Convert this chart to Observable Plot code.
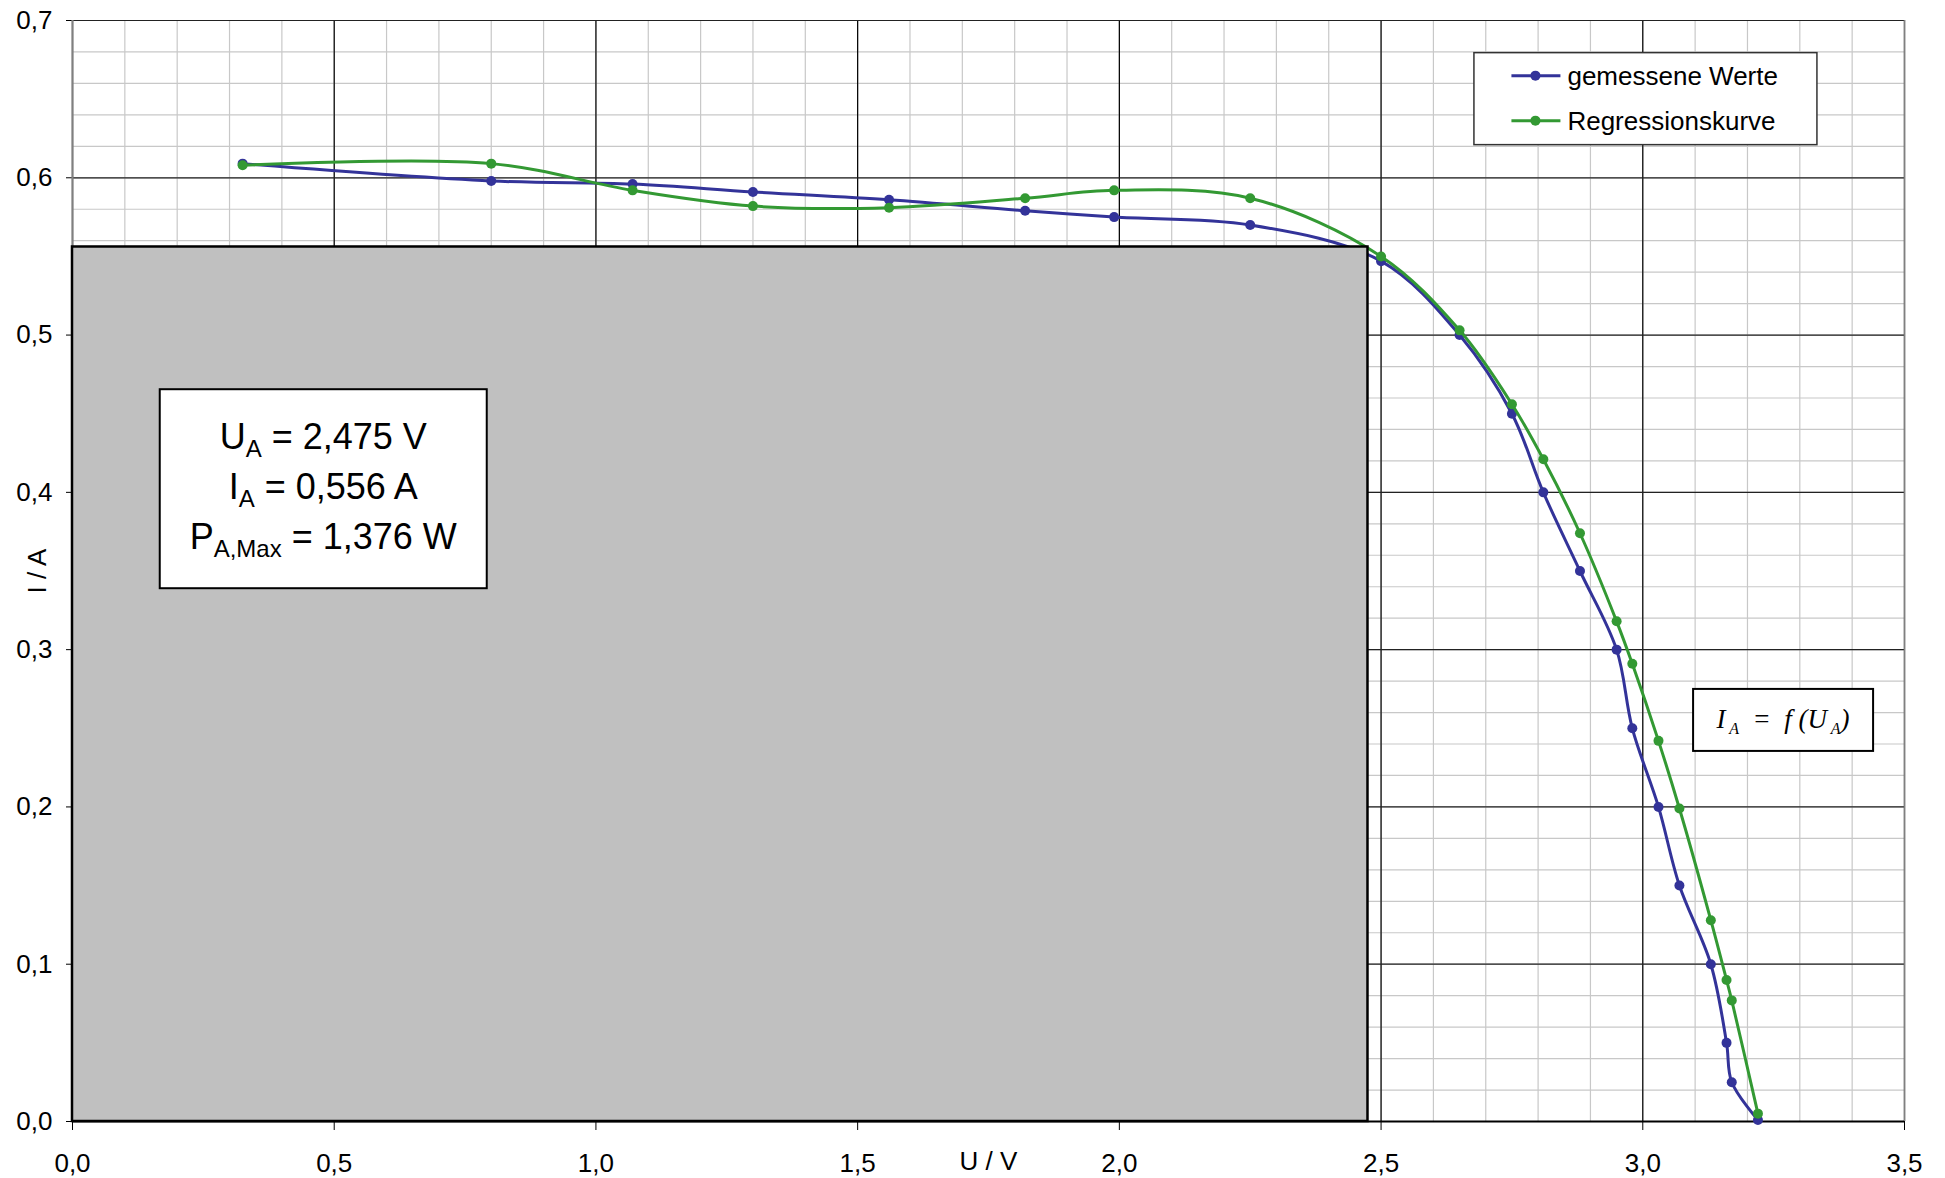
<!DOCTYPE html>
<html>
<head>
<meta charset="utf-8">
<script src="https://cdn.jsdelivr.net/npm/d3@7"></script>
<script src="https://cdn.jsdelivr.net/npm/@observablehq/plot@0.6"></script>
<style>
  body { margin: 0; background: #fff; }
  svg { display: block; }
</style>
</head>
<body>
<div id="chart"></div>
<script>
// Solar cell I–U characteristic: measured points and regression curve
const voltage = [0.325, 0.80, 1.07, 1.30, 1.56, 1.82, 1.99, 2.25, 2.50, 2.65, 2.75, 2.81, 2.88, 2.95, 2.98, 3.03, 3.07, 3.13, 3.16, 3.17, 3.22];
const currentMeasured = [0.609, 0.598, 0.596, 0.591, 0.586, 0.579, 0.575, 0.570, 0.547, 0.500, 0.450, 0.400, 0.350, 0.300, 0.250, 0.200, 0.150, 0.100, 0.050, 0.025, 0.001];
const currentRegression = [0.608, 0.609, 0.592, 0.582, 0.581, 0.587, 0.592, 0.587, 0.550, 0.503, 0.456, 0.421, 0.374, 0.318, 0.291, 0.242, 0.199, 0.128, 0.090, 0.077, 0.005];

const seriesNames = ["gemessene Werte", "Regressionskurve"];
const seriesColors = ["#333399", "#339933"];

const xTicks = [0, 0.5, 1.0, 1.5, 2.0, 2.5, 3.0, 3.5];
const yTicks = [0, 0.1, 0.2, 0.3, 0.4, 0.5, 0.6, 0.7];

// Maximum power point
const UA = 2.475;
const IA = 0.556;
const PMax = 1.376;

const xLabel = "U / V";
const yLabel = "I / A";

const fmt = (v, d) => v.toFixed(d).replace(".", ",");

const measured = voltage.map((u, i) => ({U: u, I: currentMeasured[i]}));
const regression = voltage.map((u, i) => ({U: u, I: currentRegression[i]}));

// fine grid: 0,1 V and 0,02 A steps
const minorX = d3.range(0, 36).map(i => i / 10);
const minorY = d3.range(0, 36).map(i => i / 50);

const sans = "'Liberation Sans', Arial, Helvetica, sans-serif";
const serif = "'Liberation Serif', 'Times New Roman', Times, serif";

const chart = Plot.plot({
  width: 1945,
  height: 1178,
  marginLeft: 72,
  marginRight: 41,
  marginTop: 20,
  marginBottom: 57,
  style: {fontFamily: sans, fontSize: "26px", background: "#fff", color: "#000"},
  x: {domain: [0, 3.5], ticks: xTicks, tickFormat: d => fmt(d, 1), tickSize: 9, tickPadding: 23, label: null},
  y: {domain: [0, 0.7], ticks: yTicks, tickFormat: d => fmt(d, 1), tickSize: 6, tickPadding: 14, label: null},
  marks: [
    Plot.ruleX(minorX, {stroke: "#c8c8c8", strokeWidth: 1.2}),
    Plot.ruleY(minorY, {stroke: "#c8c8c8", strokeWidth: 1.2}),
    Plot.ruleX(xTicks, {stroke: "#000", strokeWidth: 1.2}),
    Plot.ruleY(yTicks, {stroke: "#222", strokeWidth: 1.2}),
    Plot.ruleX([0], {stroke: "#808080", strokeWidth: 2}),
    Plot.ruleX([3.5], {stroke: "#808080", strokeWidth: 1.5}),
    Plot.ruleY([0], {stroke: "#000", strokeWidth: 2}),
    Plot.line(measured, {x: "U", y: "I", stroke: seriesColors[0], strokeWidth: 3, curve: "catmull-rom"}),
    Plot.dot(measured, {x: "U", y: "I", r: 5, fill: seriesColors[0], stroke: "none"}),
    Plot.line(regression, {x: "U", y: "I", stroke: seriesColors[1], strokeWidth: 3, curve: "catmull-rom"}),
    Plot.dot(regression, {x: "U", y: "I", r: 5, fill: seriesColors[1], stroke: "none"}),
    // area of maximum power U_A · I_A
    Plot.rect([{x1: 0, x2: UA, y1: 0, y2: IA}], {x1: "x1", x2: "x2", y1: "y1", y2: "y2", fill: "#c0c0c0", stroke: "#000", strokeWidth: 2.5}),
    Plot.text([xLabel], {frameAnchor: "bottom", lineAnchor: "middle", textAnchor: "middle", dy: 40, fontSize: 26, fill: "#000"}),
    Plot.text([yLabel], {frameAnchor: "left", lineAnchor: "middle", textAnchor: "middle", dx: -35, rotate: -90, fontSize: 26, fill: "#000"})
  ]
});

document.getElementById("chart").appendChild(chart);

// scale helpers for the annotation boxes
function scaleFn(name, fallback) {
  try {
    const s = chart.scale(name);
    if (s && typeof s.apply === "function") return v => s.apply(v);
  } catch (e) {}
  return fallback;
}
const sx = scaleFn("x", d3.scaleLinear([0, 3.5], [72, 1904]));
const sy = scaleFn("y", d3.scaleLinear([0, 0.7], [1121, 20]));

const svg = d3.select(chart);

function richText(g, x, y, parts, opts) {
  const t = g.append("text")
    .attr("x", x).attr("y", y)
    .attr("text-anchor", opts.anchor || "middle")
    .attr("font-family", opts.family)
    .attr("font-size", opts.size)
    .attr("font-style", opts.italic ? "italic" : "normal")
    .attr("fill", "#000")
    .style("white-space", "pre");
  let down = false;
  for (const [s, sub] of parts) {
    const ts = t.append("tspan").text(s);
    if (sub) {
      ts.attr("font-size", opts.subSize);
      if (!down) { ts.attr("dy", opts.shift); down = true; }
    } else if (down) {
      ts.attr("dy", -opts.shift); down = false;
    }
  }
  return t;
}

function boxAt(cx, cy, w, h, strokeWidth, stroke) {
  const g = svg.append("g");
  g.append("rect")
    .attr("x", cx - w / 2).attr("y", cy - h / 2)
    .attr("width", w).attr("height", h)
    .attr("fill", "#fff").attr("stroke", stroke).attr("stroke-width", strokeWidth);
  return g;
}

// Maximum power point values
{
  const cx = sx(0.48), cy = sy(0.402);
  const g = boxAt(cx, cy, 327, 199, 2, "#000");
  const o = {family: sans, size: 36, subSize: 24, shift: 8};
  richText(g, cx, cy - 40, [["U"], ["A", true], [" = " + fmt(UA, 3) + " V"]], o);
  richText(g, cx, cy + 10, [["I"], ["A", true], [" = " + fmt(IA, 3) + " A"]], o);
  richText(g, cx, cy + 60, [["P"], ["A,Max", true], [" = " + fmt(PMax, 3) + " W"]], o);
}

// Function label
{
  const cx = sx(3.269), cy = sy(0.255);
  const g = boxAt(cx, cy, 180, 62, 2, "#000");
  richText(g, cx, cy + 8, [["I"], [" A", true], ["  =  f (U"], [" A", true], [")"]],
    {family: serif, size: 27, subSize: 16, shift: 6, italic: true});
}

// Legend
{
  const cx = sx(3.006), cy = sy(0.650);
  const g = boxAt(cx, cy, 343, 92, 1.5, "#333");
  seriesNames.forEach((name, i) => {
    const y = cy - 23 + i * 45;
    g.append("line")
      .attr("x1", cx - 134).attr("x2", cx - 85)
      .attr("y1", y).attr("y2", y)
      .attr("stroke", seriesColors[i]).attr("stroke-width", 3);
    g.append("circle").attr("cx", cx - 110).attr("cy", y).attr("r", 5).attr("fill", seriesColors[i]);
    g.append("text")
      .attr("x", cx - 78).attr("y", y).attr("dy", "0.35em")
      .attr("text-anchor", "start")
      .attr("font-family", sans).attr("font-size", 26).attr("fill", "#000")
      .text(name);
  });
}
</script>
</body>
</html>
